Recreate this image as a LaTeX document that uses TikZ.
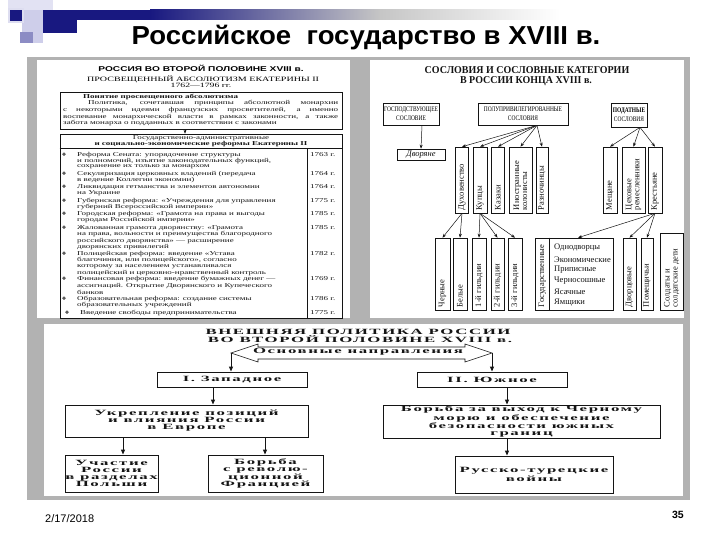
\documentclass[tikz,border=0pt]{standalone}
\usepackage{fontspec}
\usetikzlibrary{arrows.meta}
\setmainfont{Liberation Serif}
\newfontfamily\ttl{Liberation Sans}
\newfontfamily\ttlw[FakeStretch=1.06]{Liberation Sans}
\newfontfamily\ftr{Liberation Sans}
\newfontfamily\lsans[FakeStretch=1.45]{Liberation Sans}
\newfontfamily\lser[FakeStretch=1.5]{Liberation Serif}
\newfontfamily\rcap[FakeStretch=0.78]{Liberation Serif}
\newfontfamily\rtit[FakeStretch=0.95]{Liberation Serif}
\newfontfamily\bser[FakeStretch=2.1,LetterSpace=20]{Liberation Serif}
\newfontfamily\sym{DejaVu Sans}
\definecolor{navy}{RGB}{24,24,128}
\definecolor{lav}{RGB}{206,206,234}
\definecolor{lavm}{RGB}{140,140,196}
\definecolor{framec}{RGB}{178,178,178}
\definecolor{ink}{RGB}{20,20,20}
\tikzset{
  ltx/.style={anchor=west, inner sep=0pt, text=ink, font=\lser\fontsize{6}{6}\selectfont},
  ltb/.style={anchor=west, inner sep=0pt, text=ink, font=\lser\bfseries\fontsize{6}{6}\selectfont},
  bul/.style={anchor=center, inner sep=0pt, text=ink, font=\sym\fontsize{5}{5}\selectfont},
  lbox/.style={draw=ink, line width=0.6pt, inner sep=0pt},
  hdr/.style={draw=ink, line width=0.7pt, inner sep=0pt, align=center, font=\rcap\fontsize{7}{9}\selectfont},
  vbox/.style={draw=ink, line width=0.6pt, inner sep=0pt},
  vlab/.style={rotate=90, anchor=west, inner sep=0pt, align=left, text=ink, font=\fontsize{8.5}{8}\selectfont},
  slist/.style={anchor=west, inner sep=0pt, text=ink, font=\fontsize{8.5}{8.5}\selectfont},
  ar/.style={-{Stealth[length=4pt,width=3pt]}, line width=0.5pt, draw=ink},
  bbox/.style={draw=ink, line width=0.9pt, inner sep=0pt, align=center, text=ink, font=\bser\bfseries\fontsize{8}{7}\selectfont},
  btxt/.style={inner sep=0pt, text=ink, font=\bser\bfseries\fontsize{8}{8}\selectfont},
  bar/.style={-{Triangle[length=5pt,width=4pt]}, line width=1pt, draw=ink},
}
\begin{document}
\begin{tikzpicture}[x=1pt,y=-1pt]
\useasboundingbox (0,0) rectangle (720,540);
\fill[white] (0,0) rectangle (720,540);
% top-left decoration
\fill[lav!60] (8,0) rectangle (53,10);
\fill[lav] (22,10) rectangle (43,32);
\fill[lav!70] (8,8) rectangle (24,23);
\fill[navy] (10,10) rectangle (22,21);
\fill[lavm] (20,32) rectangle (33,43);
\fill[lav] (33,32) rectangle (43,43);
\fill[navy] (43,10) rectangle (77,33);
\fill[navy] (43,10) rectangle (150,20);
\shade[left color=navy,right color=gray!45] (150,10) rectangle (380,20);
\shade[left color=gray!45,right color=white] (380,10) rectangle (560,20);
% title
\node[font=\ttlw\bfseries\fontsize{26}{26}\selectfont, inner sep=0pt] (title) at (366,38) {Российское~ государство в XVIII в.};
% frame and panels
\fill[framec] (27,57) rectangle (690,500);
\fill[white] (37,60) rectangle (350,318);
\fill[white] (370,60) rectangle (684,318);
\fill[white] (44,324) rectangle (683,496);

% ================= LEFT PANEL =================
\node[font=\lsans\bfseries\fontsize{7}{7}\selectfont, inner sep=0pt] (lt1) at (201,68) {РОССИЯ ВО ВТОРОЙ ПОЛОВИНЕ XVIII в.};
\node[font=\lser\fontsize{6.7}{6.7}\selectfont, inner sep=0pt] (lt2) at (203,79) {ПРОСВЕЩЕННЫЙ АБСОЛЮТИЗМ ЕКАТЕРИНЫ II};
\node[font=\lser\fontsize{6.5}{6.5}\selectfont, inner sep=0pt] (lt3) at (201,85) {1762—1796 гг.};
\node[lbox, minimum width=282, minimum height=37] (pon) at (201,110.5) {};
\node[lbox, minimum width=282, minimum height=184] (ref) at (201,226) {};
\draw[ar] ([xshift=-16pt]pon.south) -- ([xshift=-16pt]ref.north);
\draw[ink, line width=0.6pt] ([yshift=-15pt]ref.north west) -- ([yshift=-15pt]ref.north east);
\draw[ink, line width=0.6pt] ([xshift=-35pt,yshift=-15pt]ref.north east) -- ([xshift=-35pt]ref.south east);
% box 1 text
\node[ltb] (p0) at (83,97) {Понятие просвещенного абсолютизма};
\node[ltx] (p1) at (88,103) {\makebox[250pt][s]{Политика, сочетавшая принципы абсолютной монархии}};
\node[ltx] (p2) at (63,110) {\makebox[275pt][s]{с некоторыми идеями французских просветителей, а именно}};
\node[ltx] (p3) at (63,117) {\makebox[275pt][s]{воспевание монархической власти в рамках законности, а также}};
\node[ltx] (p4) at (63,123) {забота монарха о подданных в соответствии с законами};
% box 2 header
\node[ltx, anchor=center] (h1) at (201,138) {Государственно-административные};
\node[ltb, anchor=center] (h2) at (201,144) {и социально-экономические реформы Екатерины II};
% items
\node[bul] (b1) at (64,155) {❖};
\node[ltx] (i1a) at (77,155) {Реформа Сената: упорядочение структуры};
\node[ltx] (i1b) at (77,161) {и полномочий, изъятие законодательных функций,};
\node[ltx] (i1c) at (77,167) {сохранение их только за монархом};
\node[ltx] (y1) at (310,155) {1763 г.};
\node[bul] (b2) at (64,174) {❖};
\node[ltx] (i2a) at (77,174) {Секуляризация церковных владений (передача};
\node[ltx] (i2b) at (77,180) {в ведение Коллегии экономии)};
\node[ltx] (y2) at (310,174) {1764 г.};
\node[bul] (b3) at (64,187) {❖};
\node[ltx] (i3a) at (77,187) {Ликвидация гетманства и элементов автономии};
\node[ltx] (i3b) at (77,193) {на Украине};
\node[ltx] (y3) at (310,187) {1764 г.};
\node[bul] (b4) at (64,201) {❖};
\node[ltx] (i4a) at (77,201) {Губернская реформа: «Учреждения для управления};
\node[ltx] (i4b) at (77,207) {губерний Всероссийской империи»};
\node[ltx] (y4) at (310,201) {1775 г.};
\node[bul] (b5) at (64,214) {❖};
\node[ltx] (i5a) at (77,214) {Городская реформа: «Грамота на права и выгоды};
\node[ltx] (i5b) at (77,220) {городам Российской империи»};
\node[ltx] (y5) at (310,214) {1785 г.};
\node[bul] (b6) at (64,228) {❖};
\node[ltx] (i6a) at (77,228) {Жалованная грамота дворянству: «Грамота};
\node[ltx] (i6b) at (77,234) {на права, вольности и преимущества благородного};
\node[ltx] (i6c) at (77,241) {российского дворянства» — расширение};
\node[ltx] (i6d) at (77,247) {дворянских привилегий};
\node[ltx] (y6) at (310,228) {1785 г.};
\node[bul] (b7) at (64,254) {❖};
\node[ltx] (i7a) at (77,254) {Полицейская реформа: введение «Устава};
\node[ltx] (i7b) at (77,260) {благочиния, или полицейского», согласно};
\node[ltx] (i7c) at (77,267) {которому за населением устанавливался};
\node[ltx] (i7d) at (77,273) {полицейский и церковно-нравственный контроль};
\node[ltx] (y7) at (310,254) {1782 г.};
\node[bul] (b8) at (64,279) {❖};
\node[ltx] (i8a) at (77,279) {Финансовая реформа: введение бумажных денег —};
\node[ltx] (i8b) at (77,286) {ассигнаций. Открытие Дворянского и Купеческого};
\node[ltx] (i8c) at (77,292) {банков};
\node[ltx] (y8) at (310,279) {1769 г.};
\node[bul] (b9) at (64,299) {❖};
\node[ltx] (i9a) at (77,299) {Образовательная реформа: создание системы};
\node[ltx] (i9b) at (77,305) {образовательных учреждений};
\node[ltx] (y9) at (310,299) {1786 г.};
\node[bul] (b10) at (67,313) {❖};
\node[ltx] (i10a) at (80,313) {Введение свободы предпринимательства};
\node[ltx] (y10) at (310,313) {1775 г.};

% ================= RIGHT PANEL =================
\node[font=\rtit\bfseries\fontsize{10.5}{10.5}\selectfont, inner sep=0pt, text=ink] (rt1) at (527,70) {СОСЛОВИЯ И СОСЛОВНЫЕ КАТЕГОРИИ};
\node[font=\rtit\bfseries\fontsize{10.5}{10.5}\selectfont, inner sep=0pt, text=ink] (rt2) at (526,81) {В РОССИИ КОНЦА XVIII в.};
\node[hdr, minimum width=56, minimum height=22] (gos) at (411,114) {ГОСПОДСТВУЮЩЕЕ\\СОСЛОВИЕ};
\node[hdr, minimum width=90, minimum height=22] (polu) at (523,114) {ПОЛУПРИВИЛЕГИРОВАННЫЕ\\СОСЛОВИЯ};
\node[hdr, minimum width=36, minimum height=24] (podat) at (629,115) {\textbf{ПОДАТНЫЕ}\\СОСЛОВИЯ};
\node[vbox, minimum width=48, minimum height=11, text=ink, font=\itshape\fontsize{8.5}{8.5}\selectfont] (dvor) at (421,154.5) {Дворяне};
% row 1
\node[vbox, minimum width=13, minimum height=66] (duh) at (462,180) {};
\node[vbox, minimum width=14, minimum height=66] (kup) at (480,180) {};
\node[vbox, minimum width=13, minimum height=66] (kaz) at (498,180) {};
\node[vbox, minimum width=23, minimum height=66] (inos) at (520.5,180) {};
\node[vbox, minimum width=12, minimum height=66] (razn) at (542,180) {};
\node[vbox, minimum width=14, minimum height=66] (mesh) at (610,180) {};
\node[vbox, minimum width=23, minimum height=66] (ceh) at (633.5,180) {};
\node[vbox, minimum width=14, minimum height=66] (kres) at (655,180) {};
\node[vlab] (tduh) at ([yshift=3pt]duh.south) {Духовенство};
\node[vlab] (tkup) at ([yshift=3pt]kup.south) {Купцы};
\node[vlab] (tkaz) at ([yshift=3pt]kaz.south) {Казаки};
\node[vlab] (tinos) at ([yshift=3pt]inos.south) {Иностранные\\колонисты};
\node[vlab] (trazn) at ([yshift=3pt]razn.south) {Разночинцы};
\node[vlab] (tmesh) at ([yshift=3pt]mesh.south) {Мещане};
\node[vlab] (tceh) at ([yshift=3pt]ceh.south) {Цеховые\\ремесленники};
\node[vlab] (tkres) at ([yshift=3pt]kres.south) {Крестьяне};
% row 2
\node[vbox, minimum width=15, minimum height=72] (cher) at (442.5,274) {};
\node[vbox, minimum width=14, minimum height=72] (bel) at (460,274) {};
\node[vbox, minimum width=14, minimum height=72] (g1) at (479,274) {};
\node[vbox, minimum width=13, minimum height=72] (g2) at (497.5,274) {};
\node[vbox, minimum width=14, minimum height=72] (g3) at (515,274) {};
\node[vbox, minimum width=78, minimum height=72] (gosud) at (574,274) {};
\node[vbox, minimum width=13, minimum height=72] (dvorc) at (629.5,274) {};
\node[vbox, minimum width=12, minimum height=72] (pomesh) at (647,274) {};
\node[vbox, minimum width=23, minimum height=77] (sold) at (671.5,271.5) {};
\draw[ink, line width=0.6pt] ([xshift=15pt]gosud.north west) -- ([xshift=15pt]gosud.south west);
\node[vlab] (tcher) at ([yshift=3pt]cher.south) {Черные};
\node[vlab] (tbel) at ([yshift=3pt]bel.south) {Белые};
\node[vlab] (tg1) at ([yshift=3pt]g1.south) {1-й гильдии};
\node[vlab] (tg2) at ([yshift=3pt]g2.south) {2-й гильдии};
\node[vlab] (tg3) at ([yshift=3pt]g3.south) {3-й гильдии};
\node[vlab] (tgosud) at ([xshift=7.5pt,yshift=3pt]gosud.south west) {Государственные};
\node[vlab] (tdvorc) at ([yshift=3pt]dvorc.south) {Дворцовые};
\node[vlab] (tpomesh) at ([yshift=3pt]pomesh.south) {Помещичьи};
\node[vlab] (tsold) at ([yshift=3pt]sold.south) {Солдаты и\\солдатские дети};
\node[slist] (s1) at (554,248) {Однодворцы};
\node[slist] (s2) at (554,260) {Экономические};
\node[slist] (s3) at (554,270) {Приписные};
\node[slist] (s4) at (554,281) {Черносошные};
\node[slist] (s5) at (554,292) {Ясачные};
\node[slist] (s6) at (554,303) {Ямщики};
% arrows right panel
\draw[ar] ([xshift=11pt]gos.south) -- (dvor.north);
\draw[ar] ([xshift=14pt]polu.south) -- (duh.north);
\draw[ar] ([xshift=14pt]polu.south) -- (kup.north);
\draw[ar] ([xshift=14pt]polu.south) -- (kaz.north);
\draw[ar] ([xshift=14pt]polu.south) -- (inos.north);
\draw[ar] ([xshift=14pt]polu.south) -- (razn.north);
\draw[ar] ([xshift=11pt]podat.south) -- (mesh.north);
\draw[ar] ([xshift=11pt]podat.south) -- (ceh.north);
\draw[ar] ([xshift=11pt]podat.south) -- (kres.north);
\draw[ar] (duh.south) -- (cher.north);
\draw[ar] (duh.south) -- (bel.north);
\draw[ar] (kup.south) -- (g1.north);
\draw[ar] (kup.south) -- (g2.north);
\draw[ar] (kup.south) -- (g3.north);
\draw[ar] (kres.south) -- ([xshift=4pt]gosud.north);
\draw[ar] (kres.south) -- (dvorc.north);
\draw[ar] (kres.south) -- (pomesh.north);

% ================= BOTTOM PANEL =================
\node[btxt] (bt1) at (358,332) {ВНЕШНЯЯ ПОЛИТИКА РОССИИ};
\node[btxt] (bt2) at (360,339.5) {ВО ВТОРОЙ ПОЛОВИНЕ XVIII в.};
\coordinate (dl) at (231,353);
\coordinate (dr) at (492,353);
\draw[ink, line width=0.6pt] (dl) -- (258,344) -- (258,347) -- (465,347) -- (465,344) -- (dr) -- (465,362) -- (465,359) -- (258,359) -- (258,362) -- cycle;
\node[btxt] (dirn) at (358,352) {Основные направления};
\node[bbox, minimum width=150, minimum height=15] (wst) at (232,379.5) {I. Западное};
\node[bbox, minimum width=150, minimum height=15] (sth) at (492,379.5) {II. Южное};
\node[bbox, minimum width=243, minimum height=32] (ukr) at (186.5,421) {Укрепление позиций\\и влияния России\\в Европе};
\node[bbox, minimum width=93, minimum height=37] (uch) at (111.5,473.5) {Участие\\России\\в разделах\\Польши};
\node[bbox, minimum width=115, minimum height=37] (bor) at (265.5,473.5) {Борьба\\с револю-\\ционной\\Францией};
\node[bbox, minimum width=277, minimum height=33] (more) at (521.5,421.5) {Борьба за выход к Черному\\морю и обеспечение\\безопасности южных\\границ};
\node[bbox, minimum width=158, minimum height=37] (rtw) at (534,474.5) {Русско-турецкие\\войны};
\draw[bar] (dl) -- (dl |- wst.north);
\draw[bar] (dr) -- (dr |- sth.north);
\draw[bar] ([xshift=-19pt]wst.south) -- ([xshift=26.5pt]ukr.north);
\draw[bar] ([xshift=-63.5pt]ukr.south) -- ([xshift=11.5pt]uch.north);
\draw[bar] ([xshift=78.5pt]ukr.south) -- ([xshift=-0.5pt]bor.north);
\draw[bar] ([xshift=15pt]sth.south) -- ([xshift=-14.5pt]more.north);
\draw[bar] ([xshift=-14.5pt]more.south) -- ([xshift=-27pt]rtw.north);

% footer
\node[font=\ftr\fontsize{11}{11}\selectfont, anchor=west, inner sep=0pt] (date) at (45,519) {2/17/2018};
\node[font=\ttl\bfseries\fontsize{10.5}{10.5}\selectfont, anchor=east, inner sep=0pt] (pg) at (684,515) {35};
\end{tikzpicture}
\end{document}
